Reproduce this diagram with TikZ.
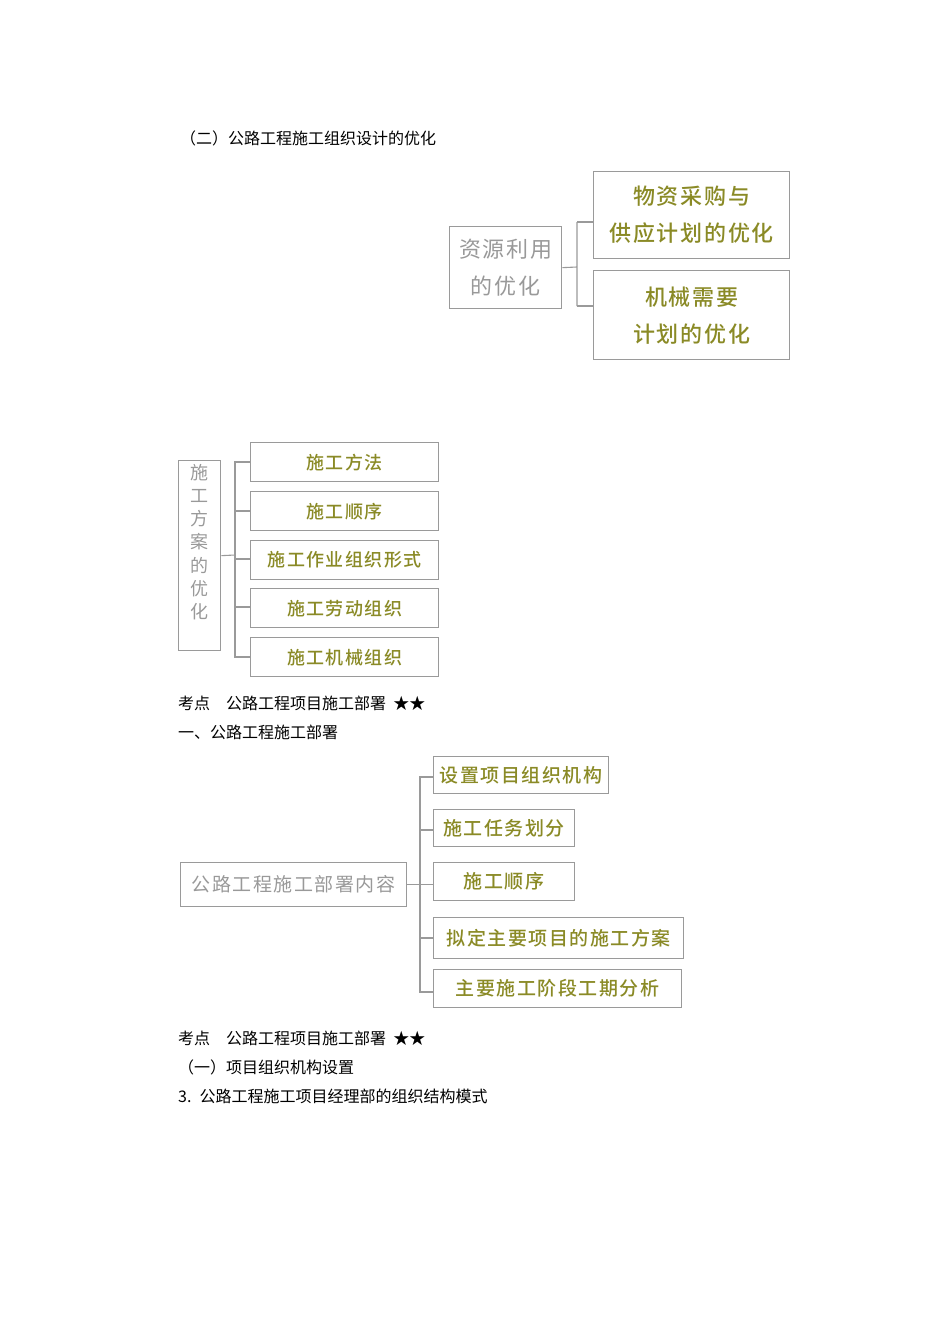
\documentclass[tikz,border=0pt]{standalone}
\usepackage{fontspec}
\newfontfamily\cjk{Noto Sans CJK SC}
\newfontfamily\cjkb[LetterSpace=8]{Noto Sans CJK SC Medium}
\newfontfamily\cjkg[LetterSpace=8]{Noto Sans CJK SC}
\definecolor{olv}{HTML}{8A8A26}
\definecolor{gbox}{HTML}{9A9A9A}
\definecolor{gtxt}{HTML}{999999}
\begin{document}
\begin{tikzpicture}[x=1pt,y=-1pt,
 bx/.style={draw=gbox,line width=1.3pt,inner sep=0pt,anchor=north west},
 ln/.style={draw=gbox,line width=1.1pt},
 tx/.style={anchor=west,inner sep=0pt,font=\cjk\fontsize{16}{18}\selectfont}]
\useasboundingbox (0,0) rectangle (950,1344);
\node[tx] (t1) at (180,138) {（二）公路工程施工组织设计的优化};
% top diagram
\node[bx,minimum width=112pt,minimum height=82pt,text=gtxt,align=center,font=\cjkg\fontsize{22}{37}\selectfont] (a0) at (449,226) {资源利用\\的优化};
\node[bx,minimum width=196pt,minimum height=87pt,text=olv,align=center,font=\cjkb\fontsize{22}{37}\selectfont] (a1) at (593,171) {物资采购与\\供应计划的优化};
\node[bx,minimum width=196pt,minimum height=89pt,text=olv,align=center,font=\cjkb\fontsize{22}{37}\selectfont] (a2) at (593,270) {机械需要\\计划的优化};
\draw[ln] (a0.east) -- (577,267) (577,222) -- (577,306);
\draw[ln] (577,222) -- (a1.west|-577,222);
\draw[ln] (577,306) -- (a2.west|-577,306);
% second diagram
\node[bx,minimum width=42pt,minimum height=190pt] (b0) at (178,460) {};
\node[text=gtxt,align=center,font=\cjkg\fontsize{18}{23.2}\selectfont] (b0t) at (199,542) {施\\工\\方\\案\\的\\优\\化};
\foreach \i/\y/\t in {1/442/施工方法,2/491/施工顺序,3/540/施工作业组织形式,4/588/施工劳动组织,5/637/施工机械组织}{
 \node[bx,minimum width=188pt,minimum height=39pt,text=olv,font=\cjkb\fontsize{18}{20}\selectfont] (b\i) at (250,\y) {\t};
}
\draw[ln] (b0.east) -- (235,555);
\draw[ln] (b1.west|-235,462) -- (235,462) -- (235,657) -- (b5.west|-235,657);
\foreach \i/\y in {2/511,3/559,4/607}{\draw[ln] (235,\y) -- (b\i.west|-235,\y);}
\node[tx] (t2) at (178,703) {考点\quad 公路工程项目施工部署 ~★★};
\node[tx] (t3) at (178,732) {一、公路工程施工部署};
% third diagram
\node[bx,minimum width=226pt,minimum height=44pt,text=gtxt,font=\cjkg\fontsize{19}{22}\selectfont] (c0) at (180,862) {公路工程施工部署内容};
\node[bx,minimum width=175pt,minimum height=37pt,text=olv,font=\cjkb\fontsize{19}{22}\selectfont] (c1) at (433,756) {设置项目组织机构};
\node[bx,minimum width=141pt,minimum height=37pt,text=olv,font=\cjkb\fontsize{19}{22}\selectfont] (c2) at (433,809) {施工任务划分};
\node[bx,minimum width=141pt,minimum height=38pt,text=olv,font=\cjkb\fontsize{19}{22}\selectfont] (c3) at (433,862) {施工顺序};
\node[bx,minimum width=250pt,minimum height=41pt,text=olv,font=\cjkb\fontsize{19}{22}\selectfont] (c4) at (433,917) {拟定主要项目的施工方案};
\node[bx,minimum width=248pt,minimum height=38pt,text=olv,font=\cjkb\fontsize{19}{22}\selectfont] (c5) at (433,969) {主要施工阶段工期分析};
\draw[ln] (c0.east) -- (c0.east-|c3.west);
\draw[ln] (c1.west|-420,777) -- (420,777) -- (420,992) -- (c5.west|-420,992);
\foreach \i/\y in {2/830,4/938}{\draw[ln] (420,\y) -- (c\i.west|-420,\y);}
\node[tx] (t4) at (178,1038) {考点\quad 公路工程项目施工部署 ~★★};
\node[tx] (t5) at (178,1067) {（一）项目组织机构设置};
\node[tx] (t6) at (178,1096) {3.\enspace 公路工程施工项目经理部的组织结构模式};
\end{tikzpicture}
\end{document}
